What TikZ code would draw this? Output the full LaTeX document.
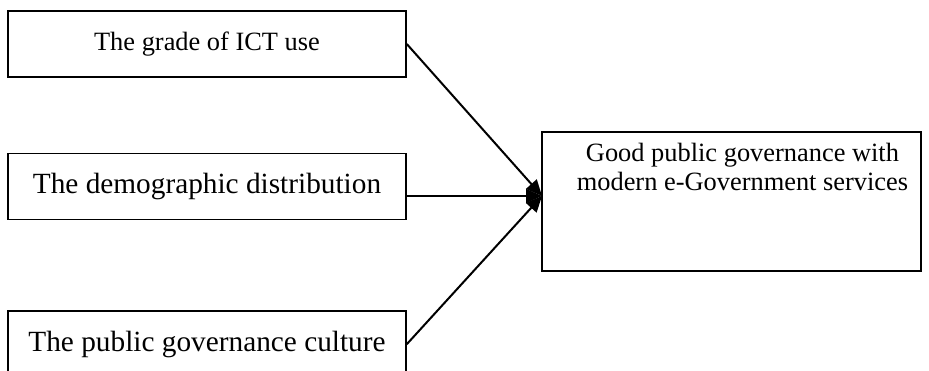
\documentclass[tikz,border=0pt]{standalone}
\usepackage{fontspec}
\setmainfont{Liberation Serif}
\usetikzlibrary{positioning,arrows.meta}

\begin{document}
\begin{tikzpicture}[x=1pt, y=1pt,
        box/.style={draw, line width=1.6pt, minimum width=398pt, minimum height=66pt, inner sep=0pt},
        smalltext/.style={font=\fontsize{26.4}{29}\selectfont},
        largetext/.style={font=\fontsize{29.3}{32}\selectfont},
        link/.style={line width=2pt, -{Triangle[length=16pt,width=14pt]}}
      ]
      \useasboundingbox (0,0) rectangle (929,-370);
      \clip (0,0) rectangle (929,-370);

      \node (ICT) at (207,-44) [box, smalltext] {The grade of ICT use};
      \node (DD) [node distance=75pt, below=of ICT, box, largetext] {The demographic distribution};
      \node (PGC) [node distance=90pt, below=of DD, box, largetext] {The public governance culture};
      \node (GG) at (731.5,-201.5) [box, minimum width=379pt, minimum height=139pt] {};
      \node (GGT) [below=12pt of GG.north, xshift=11pt, align=center, inner sep=0pt, smalltext] {Good public governance with\\modern e-Government services};
      \coordinate (hub) at (542,-196);

      \path[link]
        (ICT.east) edge (hub)
        (DD.east |- hub) edge (hub)
        (PGC.east) edge (hub);
    \end{tikzpicture}
\end{document}
